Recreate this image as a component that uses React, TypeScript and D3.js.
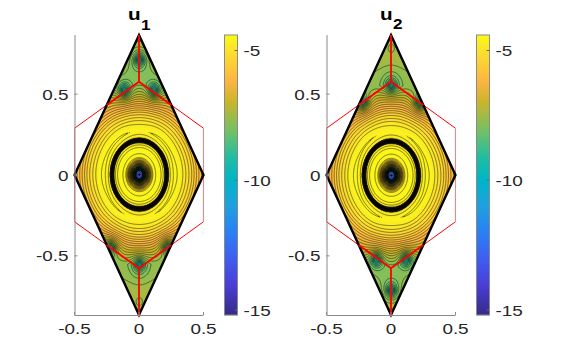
import * as d3 from "d3";
import { useMemo } from "react";

// values
const colorValues = [-15.2, -14, -13, -12, -11, -10, -9.1, -8.15, -7, -6.2, -5, -4.4];
const colorStops = ["#352a87", "#4a3fd8", "#3d5ff0", "#2a80f5", "#1fa0e0", "#00b5c8", "#21bda0", "#6fc168", "#c9b52a", "#fcb442", "#fbe22b", "#f9fb15"];

// field along a ray from the centre
const profileRadius = [0, 0.006, 0.024, 0.034, 0.05, 0.07, 0.09, 0.11, 0.16, 0.198, 0.205, 0.212, 0.219, 0.226, 0.27, 0.32, 0.38, 0.44, 0.5, 0.56, 0.65, 0.75, 0.87];
const profileValue = [-15, -13.2, -13.1, -11, -8.3, -6.4, -5.2, -4.6, -4.45, -4.9, -7, -10, -7, -4.9, -4.5, -4.7, -5.3, -6.1, -6.8, -7.4, -7.4, -7.2, -7.1];

// small dips seen in the u1 panel (u2 is the same field upside down)
const wellX = [0, -0.115, 0.115, 0, -0.22, 0.22, 0];
const wellY = [0.711, 0.52, 0.52, -0.557, -0.45, -0.45, -0.79];
const wellDepth = [2.2, 2.2, 2.2, 2, 2.2, 2.2, 0.5];

const rhombusX = [0, 0.5, 0, -0.5];
const rhombusY = [0.866, 0, -0.866, 0];
const hexagonX = [0, 0.5, 0.5, 0, -0.5, -0.5];
const hexagonY = [0.577, 0.289, -0.289, -0.577, -0.289, 0.289];
const axisTicks = [-0.5, 0, 0.5];
const colorTicks = [-5, -10, -15];

const width = 572;
const height = 354;
const plotTop = 35;
const plotBottom = 315;
const plotWidth = 129;
const barWidth = 13;
const fontFamily = "'Liberation Sans', Arial, sans-serif";
const tickColor = "#262626";

const color = d3.scaleLinear<string>().domain(colorValues).range(colorStops).clamp(true);
const profile = d3.scaleLinear().domain(profileRadius).range(profileValue).clamp(true);
const squash = d3.scaleLinear().domain([0.24, 0.5]).range([1, 0.85]).clamp(true);

const step = 0.005;
const gridW = Math.round(1.04 / step) + 1;
const gridH = Math.round(1.76 / step) + 1;

function fieldAt(x: number, y: number) {
  const r = Math.hypot(x, y);
  const rm = Math.sqrt(x * x * squash(r) + y * y);
  const angle = Math.atan2(y, x);
  let v = profile(rm);
  // the outer rings are not quite closed
  if (rm > 0.24) v += 0.02 * Math.cos(2 * angle) * Math.cos(4 * angle);
  wellX.forEach((wx, i) => {
    const d2 = (x - wx) ** 2 + (y - wellY[i]) ** 2;
    v -= wellDepth[i] / (1 + d2 / 0.0012);
  });
  return v;
}

function buildGrid() {
  const values = new Float64Array(gridW * gridH);
  for (let j = 0; j < gridH; j++) {
    for (let i = 0; i < gridW; i++) {
      values[j * gridW + i] = fieldAt(-0.52 + i * step, -0.88 + j * step);
    }
  }
  return values;
}

function StretchedText({ x, y, anchor, children, size = 15.5, weight = 400, fill = tickColor }: any) {
  return (
    <g transform={`translate(${x},${y}) scale(1.22,1)`}>
      <text textAnchor={anchor} fontFamily={fontFamily} fontSize={size} fontWeight={weight} fill={fill}>
        {children}
      </text>
    </g>
  );
}

function Panel({ left, flip, sub, grid }: { left: number; flip: boolean; sub: string; grid: Float64Array }) {
  const xScale = d3.scaleLinear().domain([-0.5, 0.5]).range([left, left + plotWidth]);
  const yScale = d3.scaleLinear().domain([-0.866, 0.866]).range([plotBottom, plotTop]);
  const barLeft = left + plotWidth + 21;
  const barScale = d3.scaleLinear().domain([-5, -15]).range([50.5, 310]);

  const clipId = `rhombus-${sub}`;
  const axesClip = `axes-${sub}`;
  const rhombus = rhombusX.map((x, i) => `${xScale(x)},${yScale(rhombusY[i])}`).join(" ");
  const hexagon = hexagonX.map((x, i) => `${xScale(x)},${yScale(hexagonY[i])}`).join(" ");

  const geoPath = d3.geoPath(
    d3.geoTransform({
      point(gx: number, gy: number) {
        const y = -0.88 + gy * step;
        (this as any).stream.point(xScale(-0.52 + gx * step), yScale(flip ? -y : y));
      },
    })
  );

  const bands = useMemo(() => {
    const gen = d3.contours().size([gridW, gridH]).smooth(true);
    return d3.range(-15.2, -4.4, 0.1).map((t) => ({ t, d: geoPath(gen.contour(grid as any, t) as any) || "" }));
  }, [grid]);
  const lines = useMemo(() => {
    const gen = d3.contours().size([gridW, gridH]).smooth(true);
    return d3.range(-15, -4.4, 0.2).map((t) => geoPath(gen.contour(grid as any, t) as any) || "");
  }, [grid]);

  // inner red spokes: tip to hexagon corner, corner to the zone edge
  const spokes = [1, -1].flatMap((s) => [
    [0, s * 0.866, 0, s * 0.577],
    [0, s * 0.577, -0.25, s * 0.433],
    [0, s * 0.577, 0.25, s * 0.433],
  ]);

  return (
    <g>
      <defs>
        <clipPath id={clipId}><polygon points={rhombus} /></clipPath>
        <clipPath id={axesClip}><rect x={left} y={plotTop} width={plotWidth} height={plotBottom - plotTop} /></clipPath>
      </defs>

      <g clipPath={`url(#${clipId})`}>
        <polygon points={rhombus} fill={color(-15.2)} />
        {bands.map((b) => <path key={b.t} d={b.d} fill={color(b.t + 0.05)} stroke="none" />)}
        {lines.map((d, i) => <path key={i} d={d} fill="none" stroke="#14140a" strokeOpacity={0.85} strokeWidth={0.6} />)}
      </g>

      <polyline
        points={hexagon + ` ${xScale(hexagonX[0])},${yScale(hexagonY[0])}`}
        fill="none" stroke="#ff0000" strokeWidth={1} clipPath={`url(#${axesClip})`}
      />
      <polygon points={rhombus} fill="none" stroke="#000" strokeWidth={2.4} strokeLinejoin="miter" />
      {spokes.map((s, i) => (
        <line key={i} x1={xScale(s[0])} y1={yScale(s[1])} x2={xScale(s[2])} y2={yScale(s[3])} stroke="#ff0000" strokeWidth={1.8} />
      ))}

      {/* axes */}
      <line x1={left + 0.5} x2={left + 0.5} y1={plotTop} y2={plotBottom} stroke="#8a8a8a" />
      <line x1={left} x2={left + plotWidth} y1={plotBottom + 0.5} y2={plotBottom + 0.5} stroke="#8a8a8a" />
      {axisTicks.map((t) => (
        <g key={t}>
          <line x1={xScale(t)} x2={xScale(t)} y1={plotBottom} y2={plotBottom - 3} stroke="#8a8a8a" />
          <line x1={left} x2={left + 3} y1={yScale(t)} y2={yScale(t)} stroke="#8a8a8a" />
          <StretchedText x={xScale(t)} y={plotBottom + 19} anchor="middle">{String(t)}</StretchedText>
          <StretchedText x={left - 6} y={yScale(t) + 5.5} anchor="end">{String(t)}</StretchedText>
        </g>
      ))}

      {/* title */}
      <StretchedText x={xScale(0) - 11} y={20} anchor="start" size={17} weight={700} fill="#000">u</StretchedText>
      <StretchedText x={xScale(0) + 2} y={sub === "1" ? 30 : 29} anchor="start" size={14} weight={700} fill="#000">{sub}</StretchedText>

      {/* colorbar */}
      {d3.range(plotTop, plotBottom).map((py) => (
        <rect key={py} x={barLeft} y={py} width={barWidth} height={1.2} fill={color(barScale.invert(py + 0.5))} />
      ))}
      <rect x={barLeft} y={plotTop} width={barWidth} height={plotBottom - plotTop} fill="none" stroke="#8a8a8a" />
      {colorTicks.map((t) => (
        <g key={t}>
          <line x1={barLeft + barWidth - 3} x2={barLeft + barWidth} y1={barScale(t)} y2={barScale(t)} stroke="#6a6a6a" />
          <StretchedText x={barLeft + barWidth + 6} y={barScale(t) + 5.5} anchor="start">{String(t)}</StretchedText>
        </g>
      ))}
    </g>
  );
}

export default function App() {
  const grid = useMemo(buildGrid, []);
  return (
    <svg width={width} height={height} style={{ position: "absolute", left: 0, top: 0, background: "#fff" }}>
      <Panel left={74.5} flip={false} sub="1" grid={grid} />
      <Panel left={326.5} flip={true} sub="2" grid={grid} />
    </svg>
  );
}
